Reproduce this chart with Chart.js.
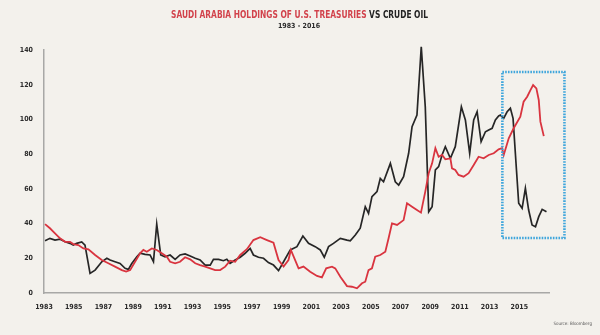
<!DOCTYPE html>
<html>
<head>
<meta charset="utf-8">
<script src="https://cdn.jsdelivr.net/npm/chart.js@4.4.1/dist/chart.umd.min.js"></script>
<style>
  html, body { margin: 0; padding: 0; background: #f3f1ec; }
</style>
</head>
<body>
<canvas id="oilChart" width="600" height="335"></canvas>
<script>
// Crude oil, $ per barrel
const oilYears = [
  1983.07, 1983.40, 1983.74, 1984.08, 1984.42, 1984.75, 1984.97, 1985.20, 1985.54, 1985.76,
  1986.10, 1986.44, 1986.89, 1987.23, 1987.45, 1987.78, 1988.12, 1988.46, 1988.68, 1988.91,
  1989.25, 1989.47, 1989.81, 1990.14, 1990.37, 1990.59, 1990.86, 1991.15, 1991.49, 1991.83,
  1992.16, 1992.50, 1992.84, 1993.18, 1993.51, 1993.85, 1994.19, 1994.41, 1994.75, 1995.08,
  1995.31, 1995.53, 1995.87, 1996.21, 1996.54, 1996.88, 1997.10, 1997.44, 1997.78, 1998.11,
  1998.45, 1998.79, 1999.13, 1999.58, 2000.03, 2000.43, 2000.81, 2001.26, 2001.60, 2001.87,
  2002.16, 2002.49, 2002.95, 2003.40, 2003.62, 2003.96, 2004.29, 2004.63, 2004.85, 2005.08,
  2005.42, 2005.64, 2005.86, 2006.32, 2006.65, 2006.88, 2007.21, 2007.55, 2007.78, 2008.11,
  2008.40, 2008.67, 2008.90, 2009.13, 2009.35, 2009.57, 2009.80, 2010.02, 2010.36, 2010.69,
  2011.10, 2011.37, 2011.66, 2011.93, 2012.16, 2012.43, 2012.72, 2012.94, 2013.17, 2013.39,
  2013.61, 2013.73, 2013.95, 2014.18, 2014.40, 2014.58, 2014.81, 2014.96, 2015.19, 2015.41,
  2015.63, 2015.86, 2016.09, 2016.31, 2016.54, 2016.83
];
const oilPrice = [
  30.1, 31.5, 30.5, 31.0, 29.5, 28.6, 27.6, 28.6, 29.4, 27.6,
  11.3, 13.2, 18.0, 20.0, 19.0, 18.0, 17.0, 14.2, 13.6, 17.0,
  20.9, 22.9, 22.3, 21.9, 18.0, 39.7, 21.9, 20.9, 21.9, 19.4,
  21.9, 22.5, 21.3, 20.0, 19.0, 16.1, 16.1, 19.4, 19.4, 18.6,
  19.4, 17.1, 19.0, 20.6, 22.9, 25.7, 21.9, 20.6, 20.0, 17.5,
  16.1, 12.9, 18.0, 24.8, 26.7, 32.8, 28.6, 26.7, 24.8, 20.6,
  26.7, 28.6, 31.5, 30.5, 30.1, 33.4, 37.3, 49.7, 45.9, 55.5,
  58.4, 66.0, 64.1, 74.7, 64.1, 62.2, 67.0, 80.5, 95.8, 102.5,
  141.9, 107.3, 46.8, 49.7, 70.9, 72.8, 79.5, 84.3, 77.6, 84.3,
  107.3, 99.7, 80.5, 99.7, 104.4, 87.2, 92.9, 93.9, 94.9, 99.7,
  102.0, 102.5, 100.6, 104.4, 106.4, 100.6, 70.9, 51.7, 48.8, 60.3,
  47.8, 39.2, 38.2, 44.0, 48.2, 46.8
];

// Saudi Arabia holdings of U.S. Treasuries, $ billions
const holdYears = [
  1983.07, 1983.40, 1983.74, 1984.08, 1984.42, 1984.75, 1984.97, 1985.31, 1985.65, 1985.99,
  1986.44, 1986.89, 1987.33, 1987.78, 1988.24, 1988.53, 1988.80, 1989.13, 1989.47, 1989.69,
  1989.92, 1990.26, 1990.59, 1990.93, 1991.27, 1991.49, 1991.83, 1992.16, 1992.50, 1992.84,
  1993.18, 1993.51, 1993.85, 1994.19, 1994.52, 1994.86, 1995.20, 1995.53, 1995.87, 1996.21,
  1996.66, 1997.10, 1997.56, 1998.01, 1998.45, 1998.79, 1999.13, 1999.46, 1999.62, 2000.14,
  2000.47, 2000.92, 2001.38, 2001.71, 2002.00, 2002.39, 2002.61, 2002.95, 2003.40, 2003.73,
  2004.07, 2004.41, 2004.63, 2004.85, 2005.08, 2005.30, 2005.64, 2005.98, 2006.20, 2006.43,
  2006.77, 2007.21, 2007.44, 2007.78, 2008.11, 2008.38, 2008.67, 2008.90, 2009.13, 2009.35,
  2009.57, 2009.80, 2010.02, 2010.36, 2010.47, 2010.69, 2010.91, 2011.25, 2011.59, 2011.93,
  2012.26, 2012.60, 2012.94, 2013.28, 2013.61, 2013.84, 2013.95, 2014.29, 2014.62, 2015.07,
  2015.29, 2015.53, 2015.75, 2015.93, 2016.15, 2016.31, 2016.42, 2016.65
];
const holdValue = [
  39.7, 37.3, 34.4, 31.5, 29.5, 29.5, 28.2, 27.6, 25.7, 25.2,
  21.9, 19.0, 17.1, 15.2, 13.2, 12.3, 13.2, 18.0, 22.9, 24.8,
  23.8, 25.7, 24.8, 22.9, 20.9, 18.0, 17.1, 18.0, 20.6, 19.4,
  17.1, 16.1, 15.2, 14.2, 13.2, 13.2, 15.2, 18.6, 18.0, 21.9,
  25.2, 30.5, 32.1, 30.5, 29.0, 19.0, 15.2, 19.0, 24.8, 14.2,
  15.2, 12.3, 9.8, 9.0, 14.2, 15.2, 14.2, 9.4, 4.0, 3.6,
  2.7, 5.6, 6.5, 13.2, 14.2, 20.9, 21.9, 23.8, 31.5, 40.1,
  39.2, 42.0, 51.7, 49.7, 47.8, 46.3, 58.4, 69.0, 74.7, 83.4,
  78.5, 79.5, 77.0, 77.6, 71.8, 70.9, 68.0, 67.0, 69.0, 73.7,
  78.5, 77.6, 79.5, 80.5, 82.8, 83.4, 79.5, 89.1, 94.9, 101.6,
  110.2, 113.1, 116.9, 119.8, 117.9, 111.2, 98.7, 90.4
];

const yearTicks = [1983, 1985, 1987, 1989, 1991, 1993, 1995, 1997, 1999,
                   2001, 2003, 2005, 2007, 2009, 2011, 2013, 2015];

// highlighted window: [x from, x to] in years, [y from, y to] in axis units
const focusYears = [2013.86, 2018.04];
const focusRange = [31.7, 127.3];

const toPoints = (xs, ys) => xs.map((x, i) => ({ x: x, y: ys[i] }));

const tickFont = { family: '"DejaVu Sans Condensed", "DejaVu Sans"', size: 7, weight: 'bold' };

const paper = {
  id: 'paper',
  beforeDraw(chart) {
    const ctx = chart.ctx;
    ctx.save();
    ctx.fillStyle = '#f3f1ec';
    ctx.fillRect(0, 0, chart.width, chart.height);
    ctx.restore();
  }
};

const headline = {
  id: 'headline',
  afterDraw(chart) {
    const ctx = chart.ctx;
    const red = 'SAUDI ARABIA HOLDINGS OF U.S. TREASURIES';
    const black = ' VS CRUDE OIL';
    ctx.save();
    ctx.font = 'bold 10px "DejaVu Sans Condensed", "DejaVu Sans"';
    ctx.textBaseline = 'middle';
    const wr = ctx.measureText(red).width;
    const wb = ctx.measureText(black).width;
    ctx.translate(171, 15);
    ctx.scale(257 / (wr + wb), 1);
    ctx.fillStyle = '#d2424b';
    ctx.fillText(red, 0, 0);
    ctx.fillStyle = '#232323';
    ctx.fillText(black, wr, 0);
    ctx.restore();

    ctx.save();
    ctx.font = 'bold 7px "DejaVu Sans Condensed", "DejaVu Sans"';
    ctx.fillStyle = '#2a2a2a';
    ctx.textAlign = 'center';
    ctx.textBaseline = 'middle';
    ctx.fillText('1983 - 2016', 299, 26);
    ctx.font = '4.5px "DejaVu Sans Condensed", "DejaVu Sans"';
    ctx.fillStyle = '#555';
    ctx.textAlign = 'right';
    ctx.fillText('Source: Bloomberg', 592, 324);
    ctx.restore();
  }
};

const focusBox = {
  id: 'focusBox',
  afterDatasetsDraw(chart) {
    const { ctx, scales: { x, y } } = chart;
    const left = x.getPixelForValue(focusYears[0]);
    const right = x.getPixelForValue(focusYears[1]);
    const top = y.getPixelForValue(focusRange[1]);
    const bottom = y.getPixelForValue(focusRange[0]);
    ctx.save();
    ctx.strokeStyle = '#3fa6dc';
    ctx.lineWidth = 2.6;
    ctx.setLineDash([1.6, 1.2]);
    ctx.strokeRect(left, top, right - left, bottom - top);
    ctx.restore();
  }
};

new Chart(document.getElementById('oilChart'), {
  type: 'line',
  data: {
    datasets: [
      {
        label: 'Saudi Arabia holdings of U.S. Treasuries',
        data: toPoints(holdYears, holdValue),
        borderColor: '#d9343f',
        borderWidth: 1.8,
        pointRadius: 0,
        tension: 0,
        clip: false,
        order: 0
      },
      {
        label: 'Crude oil',
        data: toPoints(oilYears, oilPrice),
        borderColor: '#262626',
        borderWidth: 1.7,
        pointRadius: 0,
        tension: 0,
        clip: false,
        order: 1
      }
    ]
  },
  options: {
    responsive: false,
    animation: false,
    layout: { padding: { top: 50, right: 51, left: 0, bottom: 0 } },
    plugins: {
      legend: { display: false },
      tooltip: { enabled: false }
    },
    scales: {
      x: {
        type: 'linear',
        min: 1983,
        max: 2017,
        afterBuildTicks: (scale) => { scale.ticks = yearTicks.map(v => ({ value: v })); },
        afterFit: (scale) => { scale.height = 42; },
        grid: { display: false, drawTicks: false },
        border: { color: '#a8a8a6', width: 1.5 },
        ticks: {
          padding: 10,
          autoSkip: false,
          maxRotation: 0,
          color: '#2a2a2a',
          font: tickFont,
          callback: (v) => String(v)
        }
      },
      y: {
        min: 0,
        max: 140,
        afterFit: (scale) => { scale.width = 44; },
        grid: { display: false, drawTicks: false },
        border: { color: '#a8a8a6', width: 1.5 },
        ticks: {
          stepSize: 20,
          padding: 11,
          color: '#2a2a2a',
          font: tickFont
        }
      }
    }
  },
  plugins: [paper, headline, focusBox]
});
</script>
</body>
</html>
